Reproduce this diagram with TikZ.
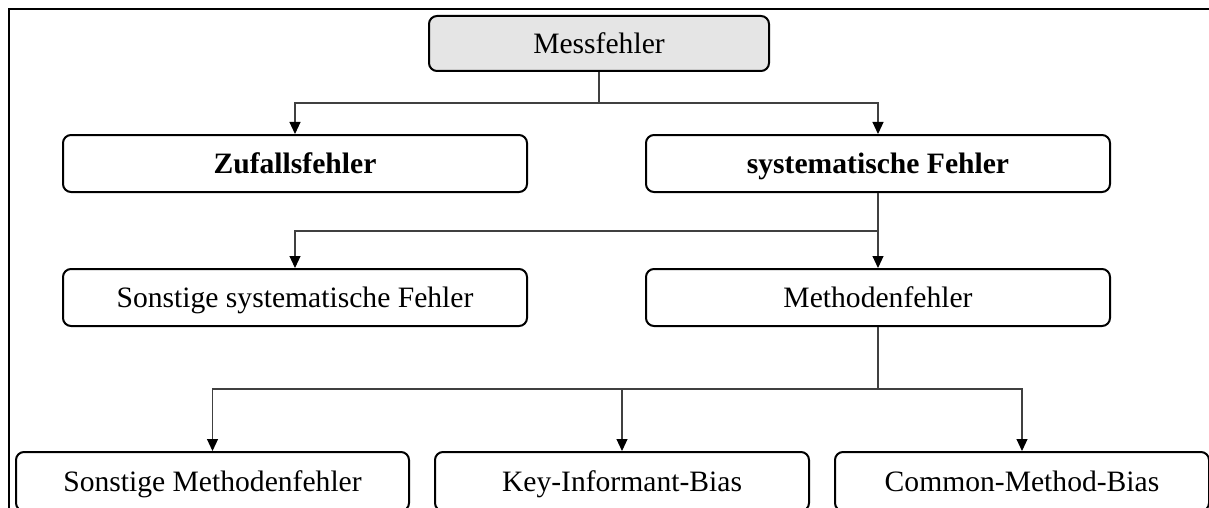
\documentclass[tikz,border=0pt]{standalone}
\usepackage{fontspec}
\setmainfont{Liberation Serif}
\usetikzlibrary{arrows.meta}

\tikzset{
  box/.style={draw=black, line width=2pt, rounded corners=8pt, fill=white,
    inner sep=0pt, text height=19.5pt, text depth=0pt,
    font=\fontsize{29.6}{34}\selectfont},
  rootbox/.style={box, fill=black!10},
  link/.style={line width=1.1pt, draw=black!75},
  arrowlink/.style={link, -{Triangle[length=12pt,width=11pt,color=black]}},
}

\begin{document}
\begin{tikzpicture}[x=1pt, y=-1pt]
  \useasboundingbox (0,0) rectangle (1209,508);
  \clip (0,0) rectangle (1209,508);

  % outer frame
  \draw[line width=2pt] (9,9) rectangle (1240,540);

  % nodes
  \node[rootbox, minimum width=340pt, minimum height=55pt] (mess) at (599,43.5) {Messfehler};

  \node[box, minimum width=464pt, minimum height=57pt] (zuf) at (295,163.5) {\textbf{Zufallsfehler}};
  \node[box, minimum width=464pt, minimum height=57pt] (sys) at (878,163.5) {\textbf{systematische Fehler}};

  \node[box, minimum width=464pt, minimum height=57pt] (sonst) at (295,297.5) {Sonstige systematische Fehler};
  \node[box, minimum width=464pt, minimum height=57pt] (meth) at (878,297.5) {Methodenfehler};

  \node[box, minimum width=393pt, minimum height=59pt] (smeth) at (212.5,481.5) {Sonstige Methodenfehler};
  \node[box, minimum width=374pt, minimum height=59pt] (kib) at (622,481.5) {Key-Informant-Bias};
  \node[box, minimum width=374pt, minimum height=59pt] (cmb) at (1022,481.5) {Common-Method-Bias};

  % branching points
  \coordinate (j1) at (599,103);
  \coordinate (j2) at (878,231);
  \coordinate (j3) at (878,389);

  % connectors
  \draw[link] (mess.south) -- (j1);
  \draw[arrowlink] (j1) -| (zuf.north);
  \draw[arrowlink] (j1) -| (sys.north);

  \draw[link] (sys.south) -- (j2);
  \draw[arrowlink] (j2) -| (sonst.north);
  \draw[arrowlink] (j2) -- (meth.north);

  \draw[link] (meth.south) -- (j3);
  \draw[arrowlink] (j3) -| (smeth.north);
  \draw[arrowlink] (j3) -| (kib.north);
  \draw[arrowlink] (j3) -| (cmb.north);
\end{tikzpicture}
\end{document}
